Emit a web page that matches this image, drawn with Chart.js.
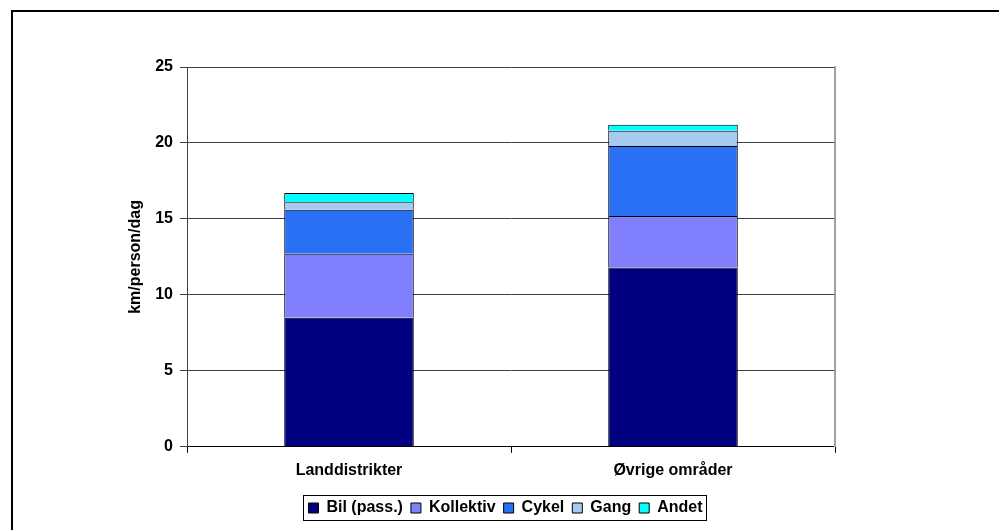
<!DOCTYPE html>
<html>
<head>
<meta charset="utf-8">
<script src="https://cdn.jsdelivr.net/npm/chart.js@4/dist/chart.umd.min.js"></script>
<style>
  html, body { margin: 0; padding: 0; background: #fff; overflow: hidden; }
  #wrap { position: relative; width: 999px; height: 530px; }
  #frame { position: absolute; left: 11px; top: 10px; width: 1100px; height: 700px; border: 2px solid #000; box-sizing: border-box; }
  canvas { position: absolute; left: 0; top: 0; }
</style>
</head>
<body>
<div id="wrap">
  <div id="frame"></div>
  <canvas id="c" width="999" height="530"></canvas>
</div>
<script>
// Travel distance per person per day by mode, rural districts vs. other areas
const categories = ['Landdistrikter', 'Øvrige områder'];
const bil       = [8.5, 11.8];
const kollektiv = [4.2, 3.4];
const cykel     = [2.9, 4.6];
const gang      = [0.5, 1.0];
const andet     = [0.6, 0.4];
const yTicks    = [0, 5, 10, 15, 20, 25];
const yTitle    = 'km/person/dag';

const FONT = { family: 'Arial, "Liberation Sans", sans-serif', size: 16, weight: 'bold' };

const series = [
  { label: 'Bil (pass.)', data: bil,       color: '#000080' },
  { label: 'Kollektiv',   data: kollektiv, color: '#8080FF' },
  { label: 'Cykel',       data: cykel,     color: '#2970F5' },
  { label: 'Gang',        data: gang,      color: '#A6CAF0' },
  { label: 'Andet',       data: andet,     color: '#00FFFF' }
];

// Frame drawn around the legend entries
const legendFrame = {
  id: 'legendFrame',
  afterDraw(chart) {
    const lg = chart.legend;
    if (!lg || !lg.legendHitBoxes.length) return;
    const boxes = lg.legendHitBoxes;
    let l = Infinity, r = -Infinity, t = Infinity, b = -Infinity;
    boxes.forEach(h => {
      l = Math.min(l, h.left); r = Math.max(r, h.left + h.width);
      t = Math.min(t, h.top); b = Math.max(b, h.top + h.height);
    });
    const ctx = chart.ctx;
    ctx.save();
    ctx.strokeStyle = '#000';
    ctx.lineWidth = 1;
    ctx.strokeRect(Math.round(l - 5) + 0.5, Math.round(t - 5) + 0.5, Math.round(r - l + 9), Math.round(b - t + 9));
    ctx.restore();
  }
};

new Chart(document.getElementById('c'), {
  type: 'bar',
  data: {
    labels: categories,
    datasets: series.map(s => ({
      label: s.label,
      data: s.data,
      backgroundColor: s.color,
      borderColor: '#000',
      borderWidth: 1,
      categoryPercentage: 1,
      barPercentage: 0.4
    }))
  },
  options: {
    responsive: false,
    animation: false,
    devicePixelRatio: 1,
    layout: { padding: { left: 126, right: 114, top: 67, bottom: 4 } },
    plugins: {
      legend: {
        position: 'bottom',
        labels: {
          font: FONT,
          color: '#000',
          boxWidth: 10,
          boxHeight: 10,
          padding: 8
        }
      },
      tooltip: { enabled: false }
    },
    scales: {
      x: {
        stacked: true,
        offset: true,
        afterFit(scale) { scale.height += 4; },
        grid: { offset: true, drawOnChartArea: false, drawTicks: true, tickLength: 6, color: '#000' },
        border: { color: '#000', width: 1 },
        ticks: { font: FONT, color: '#000', padding: 8 }
      },
      y: {
        stacked: true,
        position: 'left',
        min: 0,
        max: 25,
        afterBuildTicks(scale) { scale.ticks = yTicks.map(v => ({ value: v })); },
        afterFit(scale) { scale.width = 61; },
        grid: { color: '#404040', tickLength: 7, drawTicks: true },
        border: { color: '#404040', width: 1 },
        ticks: { font: FONT, color: '#000', padding: 7 },
        title: { display: true, text: yTitle, font: FONT, color: '#000', padding: { top: 0, bottom: 0 } }
      },
      yRight: {
        position: 'right',
        min: 0,
        max: 25,
        afterFit(scale) { scale.width = 50; },
        grid: { display: false },
        ticks: { display: false },
        border: { display: true, color: '#A0A0A0', width: 2 }
      }
    }
  },
  plugins: [legendFrame]
});
</script>
</body>
</html>
